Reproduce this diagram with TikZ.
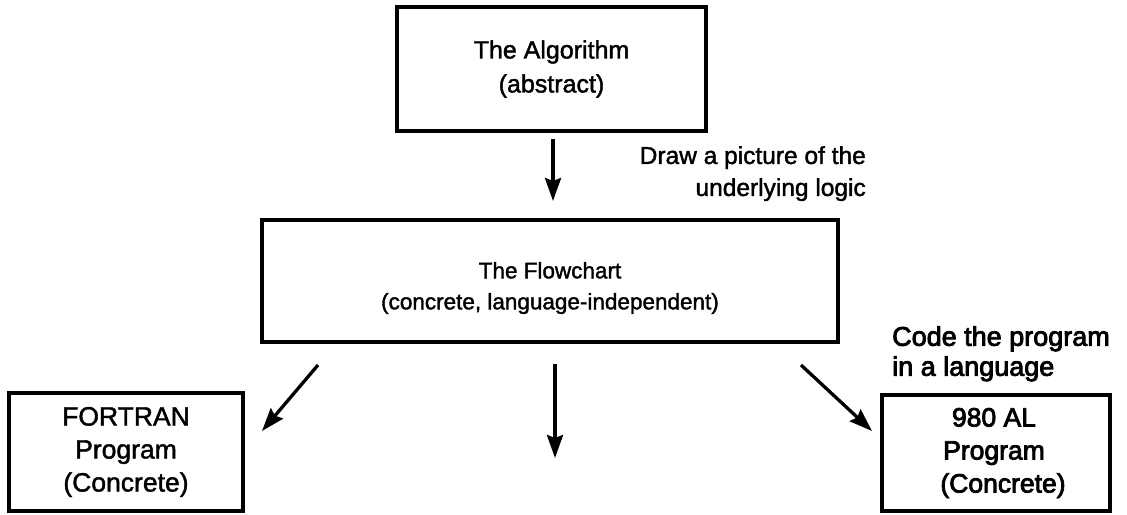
\documentclass[tikz,border=0pt]{standalone}
\usepackage{fontspec}
\setmainfont{Liberation Sans}
\newfontfamily\medfont{Liberation Sans}[FakeBold=1.6]
\newfontfamily\heavyfont{Liberation Sans}[FakeBold=3]
\usetikzlibrary{arrows.meta}
\tikzset{
  box/.style={draw, line width=3.6pt, inner sep=0pt},
  btxt/.style={align=center, inner sep=0pt, font=\medfont\fontsize{25}{34}\selectfont},
  ftxt/.style={align=center, inner sep=0pt, font=\medfont\fontsize{22.5}{31}\selectfont},
  ptxt/.style={align=center, inner sep=0pt, font=\medfont\fontsize{26.5}{33}\selectfont},
  htxt/.style={align=center, inner sep=0pt, font=\heavyfont\fontsize{26.5}{33}\selectfont},
  arr/.style={line width=3.3pt, -{Stealth[length=23pt,width=16pt,inset=3pt]}},
  lbl/.style={inner sep=0pt, font=\medfont\fontsize{24.5}{32}\selectfont},
  boldlbl/.style={inner sep=0pt, font=\heavyfont\fontsize{27}{30}\selectfont}
}
\begin{document}
\begin{tikzpicture}[x=1pt,y=-1pt]
\useasboundingbox (0,0) rectangle (1127,514);
% boxes
\node[box, minimum width=309pt, minimum height=124pt] (alg) at (551.5,69) {};
\node[box, minimum width=576pt, minimum height=122pt] (flow) at (550,281) {};
\node[box, minimum width=234pt, minimum height=118pt] (fort) at (126,452) {};
\node[box, minimum width=228pt, minimum height=116pt] (al) at (996,453) {};
% box texts
\node[btxt] (algt) at (alg.center) {The Algorithm\\(abstract)};
\node[ftxt] (flowt) at ([yshift=-7pt]flow.center) {The Flowchart\\(concrete, language-independent)};
\node[ptxt] (fortt) at (fort.center) {FORTRAN\\Program\\(Concrete)};
\node[htxt] (alt) at ([xshift=-2pt]al.center) {980 AL\\Program\hspace*{26pt}\\\hspace*{18pt}(Concrete)};
% labels
\node[lbl, align=right, anchor=north east] (draw) at (866,146) {Draw a picture of the\\underlying logic};
\node[boldlbl, align=left, anchor=north west] (code) at (892,326) {Code the program\\in a language};
% arrows
\coordinate (a1s) at (553,139);
\coordinate (a1e) at (553,201);
\coordinate (lls) at (318,365);
\coordinate (lle) at (262,431);
\coordinate (mds) at (555,364);
\coordinate (mde) at (555,458);
\coordinate (rrs) at (801,365);
\coordinate (rre) at (872,431);
\draw[arr] (a1s) -- (a1e);
\draw[arr] (lls) -- (lle);
\draw[arr] (mds) -- (mde);
\draw[arr] (rrs) -- (rre);
\end{tikzpicture}
\end{document}
